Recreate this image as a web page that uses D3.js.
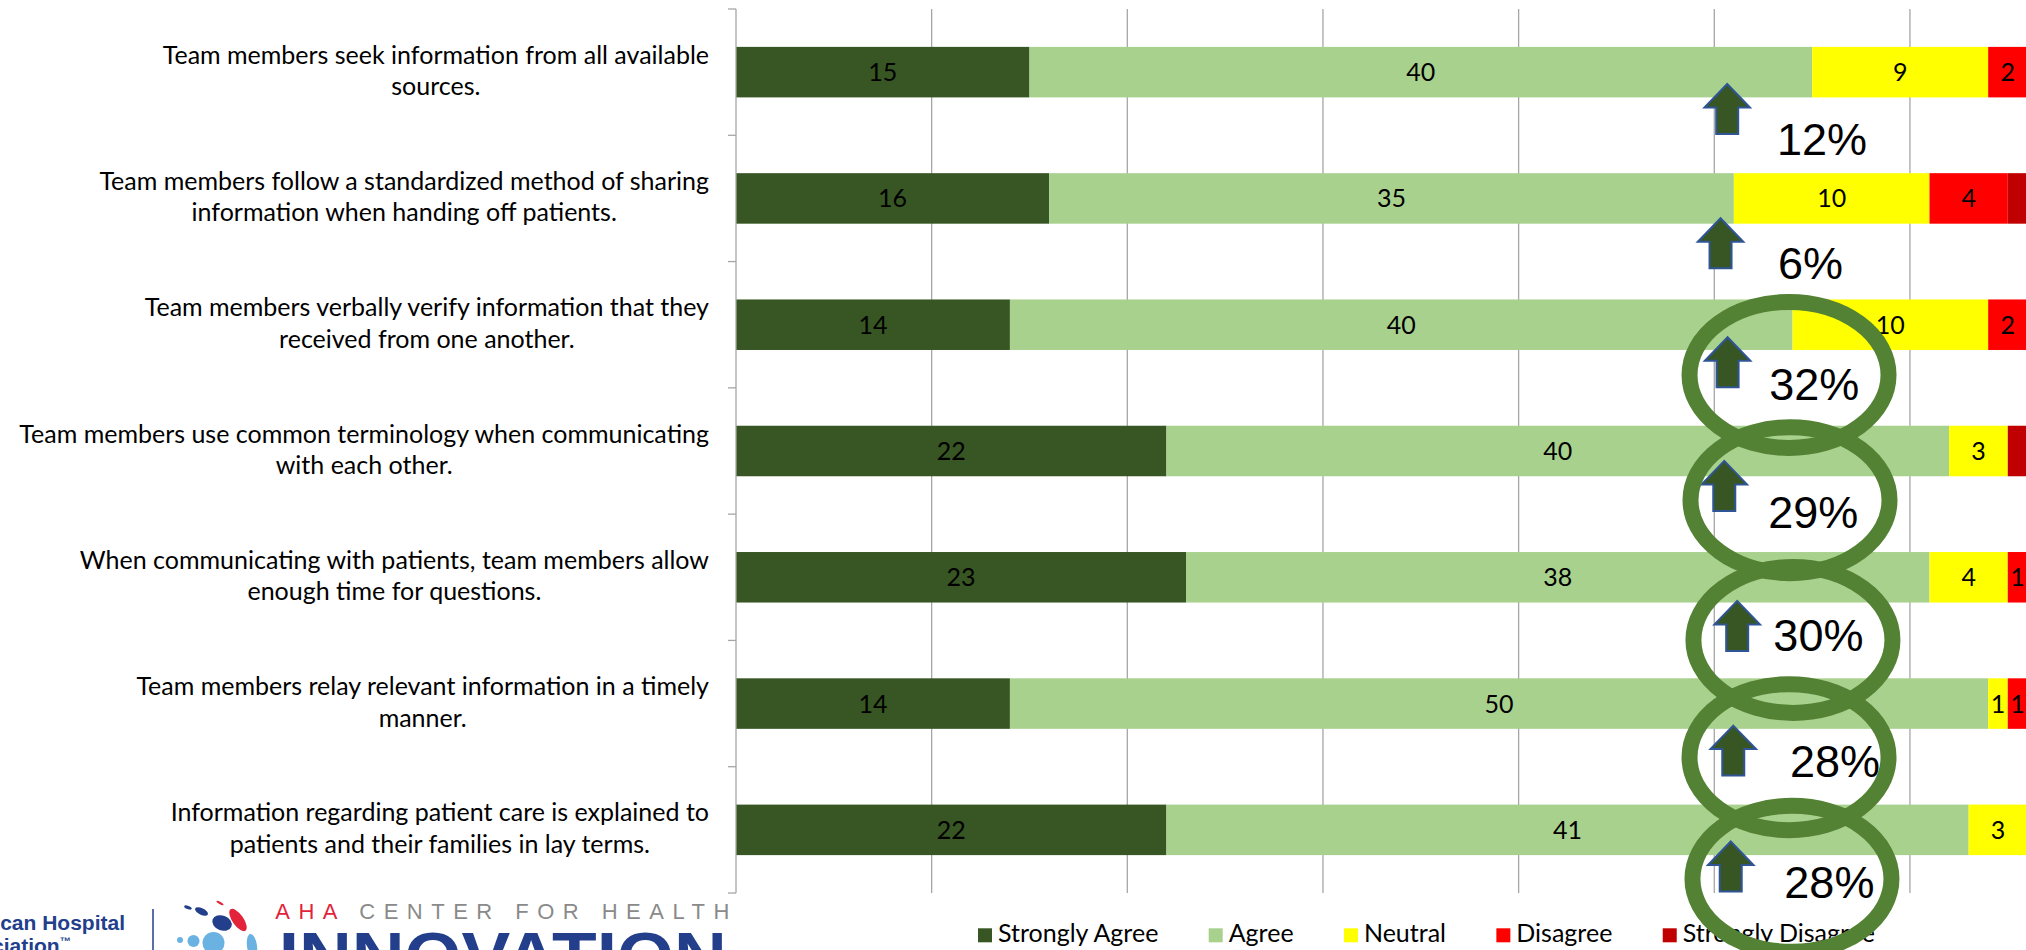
<!DOCTYPE html>
<html>
<head>
<meta charset="utf-8">
<script src="https://cdn.jsdelivr.net/npm/d3@7"></script>
<style>
  html, body { margin: 0; padding: 0; background: #ffffff; overflow: hidden; }
  svg { display: block; }
</style>
</head>
<body>
<svg id="chart" width="2026" height="950"></svg>
<script>
// ---- survey data ----
const categoryLines = [
  ["Team members seek information from all available", "sources."],
  ["Team members follow a standardized method of sharing", "information when handing off patients."],
  ["Team members verbally verify information that they", "received from one another."],
  ["Team members use common terminology when communicating", "with each other."],
  ["When communicating with patients, team members allow", "enough time for questions."],
  ["Team members relay relevant information in a timely", "manner."],
  ["Information regarding patient care is explained to", "patients and their families in lay terms."]
];
const seriesNames = ["Strongly Agree", "Agree", "Neutral", "Disagree", "Strongly Disagree"];
const strongAgree    = [15, 16, 14, 22, 23, 14, 22];
const agree          = [40, 35, 40, 40, 38, 50, 41];
const neutral        = [9, 10, 10, 3, 4, 1, 3];
const disagree       = [2, 4, 2, 0, 1, 1, 0];
const strongDisagree = [0, 1, 0, 1, 0, 0, 0];
const labelledSeries = [true, true, true, true, false];
const xTicks = [0, 10, 20, 30, 40, 50, 60, 70];

// improvement call-outs per statement
const improvement = [12, 6, 32, 29, 30, 28, 28];
const circled = [false, false, true, true, true, true, true];

// ---- styling ----
const seriesColors = ["#375623", "#a9d18e", "#ffff00", "#ff0000", "#c00000"];
const labelFont = "Lato, Carlito, Calibri, 'Open Sans', sans-serif";
const labelSize = 25;
const calloutFont = "'Liberation Sans', Arial, Helvetica, sans-serif";

// call-out placement: x in axis units, dy in px from the row centre
const calloutLayout = [
  { arrowX: 50.66, arrowDy: 11.9, textX: 53.20, textDy: 82.9, ringX: 0,     ringDy: 0 },
  { arrowX: 50.32, arrowDy: 19.8, textX: 53.26, textDy: 80.5, ringX: 0,     ringDy: 0 },
  { arrowX: 50.68, arrowDy: 12.5, textX: 52.81, textDy: 75.0, ringX: 53.82, ringDy: 50.2 },
  { arrowX: 50.51, arrowDy: 9.9,  textX: 52.76, textDy: 77.2, ringX: 53.87, ringDy: 49.2 },
  { arrowX: 51.17, arrowDy: 23.6, textX: 53.02, textDy: 73.3, ringX: 54.02, ringDy: 62.6 },
  { arrowX: 50.97, arrowDy: 22.0, textX: 53.87, textDy: 73.0, ringX: 53.82, ringDy: 53.6 },
  { arrowX: 50.84, arrowDy: 11.7, textX: 53.58, textDy: 67.7, ringX: 53.97, ringDy: 49.0 }
];

const svg = d3.select("#chart");

// ---- scales ----
const x = d3.scaleLinear().domain([0, 70]).range([736, 2105.6]);
const y = d3.scaleBand()
  .domain(d3.range(categoryLines.length))
  .range([9, 893])
  .paddingInner(0.6)
  .paddingOuter(0.3);
const rowCentre = i => y(i) + y.bandwidth() / 2;

// ---- stacked table ----
const table = categoryLines.map((_, i) => ({
  idx: i,
  "Strongly Agree": strongAgree[i],
  "Agree": agree[i],
  "Neutral": neutral[i],
  "Disagree": disagree[i],
  "Strongly Disagree": strongDisagree[i]
}));
const stacked = d3.stack().keys(seriesNames)(table);

// ---- vertical gridlines ----
svg.append("g")
  .selectAll("line")
  .data(xTicks.filter(t => t > 0))
  .join("line")
  .attr("x1", d => x(d)).attr("x2", d => x(d))
  .attr("y1", y.range()[0]).attr("y2", y.range()[1])
  .attr("stroke", "#a6a6a6")
  .attr("stroke-width", 1.3);

// ---- bars ----
const layers = svg.append("g")
  .selectAll("g")
  .data(stacked)
  .join("g")
  .attr("fill", (d, i) => seriesColors[i]);

layers.selectAll("rect")
  .data(d => d.filter(s => s[1] > s[0]))
  .join("rect")
  .attr("x", d => x(d[0]))
  .attr("y", d => y(d.data.idx))
  .attr("width", d => x(d[1]) - x(d[0]))
  .attr("height", y.bandwidth());

// ---- value labels inside segments ----
stacked.forEach((layer, si) => {
  if (!labelledSeries[si]) return;
  svg.append("g")
    .selectAll("text")
    .data(layer.filter(s => s[1] > s[0]))
    .join("text")
    .attr("x", d => (x(d[0]) + x(d[1])) / 2)
    .attr("y", d => rowCentre(d.data.idx) + 9)
    .attr("text-anchor", "middle")
    .attr("font-family", labelFont)
    .attr("font-size", labelSize)
    .attr("fill", "#000")
    .text(d => d[1] - d[0]);
});

// ---- category axis ----
const axisG = svg.append("g");
axisG.append("line")
  .attr("x1", x(0)).attr("x2", x(0))
  .attr("y1", y.range()[0]).attr("y2", y.range()[1])
  .attr("stroke", "#a6a6a6").attr("stroke-width", 1.3);
const boundaries = d3.range(categoryLines.length + 1).map(k => y.range()[0] + k * y.step());
axisG.selectAll("line.tick")
  .data(boundaries)
  .join("line")
  .attr("class", "tick")
  .attr("x1", x(0) - 8).attr("x2", x(0))
  .attr("y1", d => d).attr("y2", d => d)
  .attr("stroke", "#a6a6a6").attr("stroke-width", 1.3);

// category labels: block right-aligned, lines centred within it
const labelRight = 709;
categoryLines.forEach((lines, i) => {
  const g = svg.append("g");
  const texts = lines.map((ln, k) =>
    g.append("text")
      .attr("y", rowCentre(i) - 8.5 + k * 31.5)
      .attr("text-anchor", "middle")
      .attr("font-family", labelFont)
      .attr("font-size", labelSize)
      .attr("fill", "#000")
      .text(ln)
  );
  const widest = d3.max(texts, t => t.node().getComputedTextLength());
  texts.forEach(t => t.attr("x", labelRight - widest / 2));
});

// ---- legend: spread evenly across its span under the plot ----
const legend = svg.append("g");
const legendLeft = 978, legendRight = 1875;
const legendItems = seriesNames.map((name, i) => {
  const item = legend.append("g");
  item.append("rect")
    .attr("x", 0).attr("y", 928.3)
    .attr("width", 14).attr("height", 14)
    .attr("fill", seriesColors[i]);
  const t = item.append("text")
    .attr("x", 20).attr("y", 942)
    .attr("font-family", labelFont)
    .attr("font-size", labelSize)
    .attr("fill", "#000")
    .text(name);
  return { item, w: 20 + t.node().getComputedTextLength() };
});
const legendGap = (legendRight - legendLeft - d3.sum(legendItems, d => d.w)) / (legendItems.length - 1);
let cursor = legendLeft;
legendItems.forEach(d => {
  d.item.attr("transform", `translate(${cursor},0)`);
  cursor += d.w + legendGap;
});

// ---- organisation logo, lower left ----
const logo = svg.append("g");
const navy = "#233f8c";
const ah1 = logo.append("text")
  .attr("x", 125).attr("y", 930)
  .attr("text-anchor", "end")
  .attr("font-family", "'Liberation Sans', Arial, sans-serif")
  .attr("font-weight", "bold")
  .attr("font-size", 21)
  .attr("fill", navy)
  .text("American Hospital");
const ahStart = 125 - ah1.node().getComputedTextLength();
const ah2 = logo.append("text")
  .attr("x", ahStart).attr("y", 953)
  .attr("font-family", "'Liberation Sans', Arial, sans-serif")
  .attr("font-weight", "bold")
  .attr("font-size", 21)
  .attr("fill", navy);
ah2.append("tspan").text("Association");
ah2.append("tspan").attr("font-size", 11).attr("dy", -8).text("™");

logo.append("line")
  .attr("x1", 153).attr("x2", 153).attr("y1", 909).attr("y2", 950)
  .attr("stroke", navy).attr("stroke-width", 1.5);

const dots = [
  { cx: 188,   cy: 907.5, rx: 4,   ry: 1.6, rot: 20,  c: navy },
  { cx: 201.5, cy: 911.5, rx: 7,   ry: 3.2, rot: 25,  c: navy },
  { cx: 222,   cy: 923,   rx: 10,  ry: 7.5, rot: 20,  c: navy },
  { cx: 220,   cy: 903,   rx: 4,   ry: 1.2, rot: 30,  c: "#e2233a" },
  { cx: 238,   cy: 920,   rx: 5.5, ry: 13,  rot: -35, c: "#e2233a" },
  { cx: 180,   cy: 940,   rx: 3,   ry: 3,   rot: 0,   c: "#6ab2e2" },
  { cx: 193.5, cy: 941,   rx: 6,   ry: 6,   rot: 0,   c: "#6ab2e2" },
  { cx: 213.5, cy: 943,   rx: 11,  ry: 11,  rot: 0,   c: "#6ab2e2" },
  { cx: 252,   cy: 946,   rx: 5,   ry: 12,  rot: -8,  c: "#6ab2e2" }
];
logo.selectAll("ellipse")
  .data(dots)
  .join("ellipse")
  .attr("cx", d => d.cx).attr("cy", d => d.cy)
  .attr("rx", d => d.rx).attr("ry", d => d.ry)
  .attr("transform", d => `rotate(${d.rot},${d.cx},${d.cy})`)
  .attr("fill", d => d.c);

const hdr = logo.append("text")
  .attr("x", 275.3).attr("y", 919.3)
  .attr("font-family", "'Liberation Sans', Arial, sans-serif")
  .attr("font-size", 22)
  .attr("textLength", 454)
  .attr("lengthAdjust", "spacing");
hdr.append("tspan").attr("fill", "#e2233a").text("AHA ");
hdr.append("tspan").attr("fill", "#8a8a8a").text("CENTER FOR HEALTH");

logo.append("text")
  .attr("x", 278.7).attr("y", 979)
  .attr("font-family", "'Liberation Sans', Arial, sans-serif")
  .attr("font-weight", "bold")
  .attr("font-size", 66)
  .attr("textLength", 448)
  .attr("lengthAdjust", "spacingAndGlyphs")
  .attr("fill", navy)
  .text("INNOVATION");

// ---- improvement call-outs ----
const callouts = svg.append("g");
const arrowPath = (tx, ty) => {
  const hw = 22.75, sw = 11, hh = 23.5, h = 50;
  return `M${tx},${ty} L${tx + hw},${ty + hh} L${tx + sw},${ty + hh} L${tx + sw},${ty + h} ` +
         `L${tx - sw},${ty + h} L${tx - sw},${ty + hh} L${tx - hw},${ty + hh} Z`;
};
callouts.selectAll("path")
  .data(improvement.map((v, i) => ({ v, i, L: calloutLayout[i] })))
  .join("path")
  .attr("d", d => arrowPath(x(d.L.arrowX), rowCentre(d.i) + d.L.arrowDy))
  .attr("fill", "#375623")
  .attr("stroke", "#2f5597")
  .attr("stroke-width", 2);

callouts.selectAll("text")
  .data(improvement.map((v, i) => ({ v, i, L: calloutLayout[i] })))
  .join("text")
  .attr("x", d => x(d.L.textX))
  .attr("y", d => rowCentre(d.i) + d.L.textDy)
  .attr("font-family", calloutFont)
  .attr("font-size", 45)
  .attr("fill", "#000")
  .text(d => d.v + "%");

callouts.selectAll("ellipse")
  .data(improvement.map((v, i) => ({ v, i, L: calloutLayout[i] })).filter(d => circled[d.i]))
  .join("ellipse")
  .attr("cx", d => x(d.L.ringX))
  .attr("cy", d => rowCentre(d.i) + d.L.ringDy)
  .attr("rx", 99.5)
  .attr("ry", 73)
  .attr("fill", "none")
  .attr("stroke", "#548235")
  .attr("stroke-width", 16);
</script>
</body>
</html>
